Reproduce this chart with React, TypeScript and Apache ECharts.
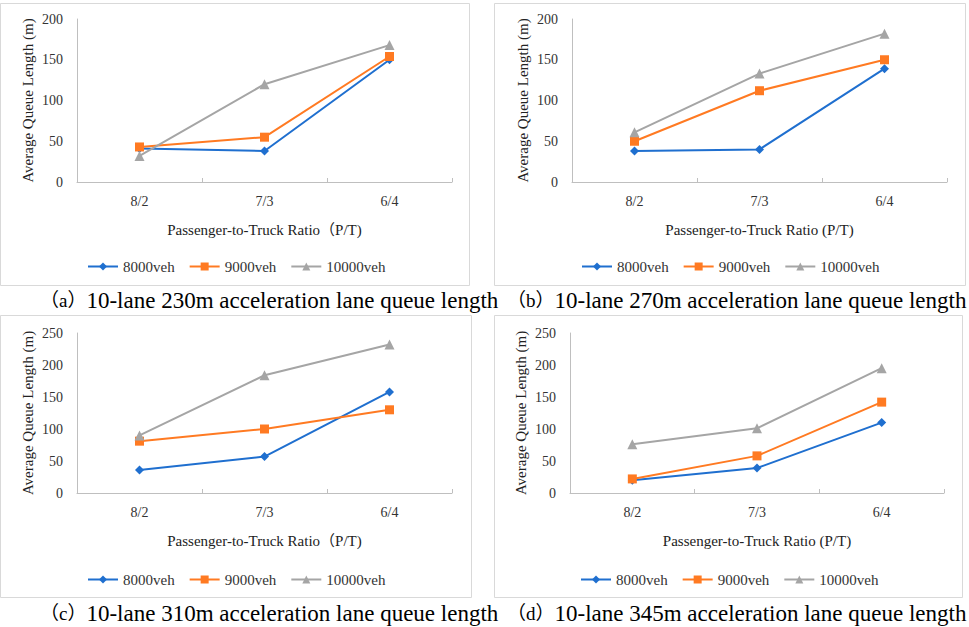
import React, { useEffect, useRef } from "react";
import * as echarts from "echarts";

const categories = ["8/2", "7/3", "6/4"];
const seriesNames = ["8000veh", "9000veh", "10000veh"];

const a8000 = [41, 38, 150];
const a9000 = [43, 55, 154];
const a10000 = [32, 120, 168];

const b8000 = [38, 40, 139];
const b9000 = [50, 112, 150];
const b10000 = [61, 133, 182];

const c8000 = [36, 57, 158];
const c9000 = [81, 100, 130];
const c10000 = [90, 184, 232];

const d8000 = [20, 39, 110];
const d9000 = [22, 58, 142];
const d10000 = [76, 101, 195];

const yMaxTop = 200;
const yMaxBottom = 250;

const captionTags = ["（a）", "（b）", "（c）", "（d）"];
const captionTexts = [
  "10-lane 230m acceleration lane queue length",
  "10-lane 270m acceleration lane queue length",
  "10-lane 310m acceleration lane queue length",
  "10-lane 345m acceleration lane queue length",
];

const xAxisNames = [
  "Passenger-to-Truck Ratio（P/T)",
  "Passenger-to-Truck Ratio (P/T)",
  "Passenger-to-Truck Ratio（P/T)",
  "Passenger-to-Truck Ratio (P/T)",
];
const yAxisName = "Average Queue Length (m)";

const FONT = "Liberation Serif, Times New Roman, Noto Sans CJK SC, serif";
const COLORS = ["#1F6FCF", "#FF7A22", "#A5A5A5"];
const SYMBOLS = ["diamond", "rect", "triangle"];
const SYMBOL_SIZES = [9, 9, 10];

const panels = [
  { data: [a8000, a9000, a10000], max: yMaxTop, left: 77, top: 19, width: 375, height: 163, legendLeft: 82, legendTop: 254, frame: [0.5, 3.5, 469, 282] },
  { data: [b8000, b9000, b10000], max: yMaxTop, left: 572, top: 19, width: 375, height: 163, legendLeft: 576, legendTop: 254, frame: [494.5, 3.5, 471, 282] },
  { data: [c8000, c9000, c10000], max: yMaxBottom, left: 77, top: 333, width: 375, height: 160, legendLeft: 82, legendTop: 567, frame: [0.5, 315.5, 471, 282] },
  { data: [d8000, d9000, d10000], max: yMaxBottom, left: 570, top: 333, width: 374, height: 160, legendLeft: 575, legendTop: 567, frame: [494.5, 315.5, 468, 282] },
];

const captionPos = [
  { x: 40, y: 300 },
  { x: 507, y: 300 },
  { x: 40, y: 613 },
  { x: 507, y: 613 },
];

export default function App() {
  const ref = useRef<HTMLDivElement>(null);
  useEffect(() => {
    if (!ref.current) return;
    const chart = echarts.init(ref.current, undefined, { renderer: "svg" });
    const grid: any[] = [];
    const xAxis: any[] = [];
    const yAxis: any[] = [];
    const series: any[] = [];
    const legend: any[] = [];
    const graphic: any[] = [];

    panels.forEach((p, i) => {
      grid.push({ left: p.left, top: p.top, width: p.width, height: p.height, containLabel: false });
      xAxis.push({
        type: "category",
        gridIndex: i,
        data: categories,
        boundaryGap: true,
        name: xAxisNames[i],
        nameLocation: "middle",
        nameGap: 40,
        nameTextStyle: { fontFamily: FONT, fontSize: 15, color: "#222" },
        axisLine: { lineStyle: { color: "#BFBFBF", width: 1 } },
        axisTick: { show: true, inside: true, length: 4, lineStyle: { color: "#BFBFBF" } },
        axisLabel: { fontFamily: FONT, fontSize: 14, color: "#333", margin: 12 },
        splitLine: { show: false },
      });
      yAxis.push({
        type: "value",
        gridIndex: i,
        min: 0,
        max: p.max,
        interval: 50,
        name: yAxisName,
        nameLocation: "middle",
        nameGap: 42,
        nameRotate: 90,
        nameTextStyle: { fontFamily: FONT, fontSize: 15, color: "#222" },
        axisLine: { show: true, lineStyle: { color: "#BFBFBF", width: 1 } },
        axisTick: { show: false },
        axisLabel: { fontFamily: FONT, fontSize: 14, color: "#333", margin: 14 },
        splitLine: { show: false },
      });
      p.data.forEach((vals, k) => {
        series.push({
          type: "line",
          name: seriesNames[k],
          xAxisIndex: i,
          yAxisIndex: i,
          data: vals,
          symbol: SYMBOLS[k],
          symbolSize: SYMBOL_SIZES[k],
          showSymbol: true,
          lineStyle: { color: COLORS[k], width: 2 },
          itemStyle: { color: COLORS[k] },
          emphasis: { disabled: true },
          z: 2 + k,
        });
      });
      legend.push({
        left: p.legendLeft,
        top: p.legendTop,
        itemWidth: 30,
        itemHeight: 10,
        itemGap: 14,
        data: seriesNames,
        textStyle: { fontFamily: FONT, fontSize: 15, color: "#333" },
        selectedMode: false,
      });
      graphic.push({
        type: "rect",
        shape: { x: p.frame[0], y: p.frame[1], width: p.frame[2], height: p.frame[3] },
        style: { fill: "none", stroke: "#D9D9D9", lineWidth: 1 },
        silent: true,
        z: -1,
      });
    });

    captionTexts.forEach((c, i) => {
      graphic.push({
        type: "text",
        x: captionPos[i].x,
        y: captionPos[i].y,
        style: {
          text: `{p|${captionTags[i]}}{t|${c}}`,
          rich: {
            p: { fontFamily: FONT, fontSize: 19, fill: "#000" },
            t: { fontFamily: FONT, fontSize: 23, fill: "#000" },
          },
          fill: "#000",
          verticalAlign: "middle",
        },
        silent: true,
      });
    });

    chart.setOption({
      animation: false,
      backgroundColor: "#fff",
      color: COLORS,
      grid,
      xAxis,
      yAxis,
      series,
      legend,
      graphic,
    });
    return () => chart.dispose();
  }, []);
  return (
    <div
      ref={ref}
      style={{ position: "fixed", left: 0, top: 0, width: 969, height: 627, background: "#fff" }}
    />
  );
}
